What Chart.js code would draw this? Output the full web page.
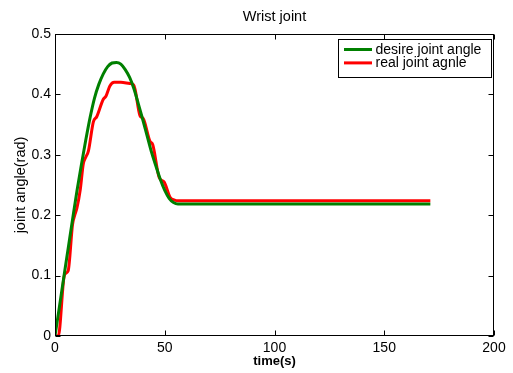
<!DOCTYPE html>
<html>
<head>
<meta charset="utf-8">
<script src="https://cdn.jsdelivr.net/npm/chart.js@4"></script>
<style>
  html, body { margin: 0; padding: 0; background: #fff; }
  #wrap { width: 513px; height: 373px; }
</style>
</head>
<body>
<div id="wrap"><canvas id="jointChart" width="513" height="373"></canvas></div>
<script>
// DATA
let chartTitle = 'Wrist joint';
let xAxisLabel = 'time(s)';
let yAxisLabel = 'joint angle(rad)';
let seriesLabels = ['desire joint angle', 'real joint agnle'];

let desireTime = [0, 2, 4, 6, 8, 10, 12, 14, 16, 18, 20, 22, 24, 26, 28, 30, 32, 34, 36, 38,
    40, 42, 44, 46, 48, 50, 52, 54, 56, 171];
let desireAngle = [0, 0.048, 0.097, 0.145, 0.193, 0.240, 0.283, 0.324, 0.362, 0.394, 0.417,
    0.434, 0.446, 0.452, 0.453, 0.450, 0.441, 0.428, 0.409, 0.384, 0.358, 0.331, 0.304,
    0.281, 0.259, 0.241, 0.228, 0.221, 0.2185, 0.2185];

let realTime = [0, 1.5, 4.0, 4.6, 6.0, 8.0, 9.0, 10.0, 11.5, 12.9, 14.0, 15.2, 17.5, 19.0,
    22.0, 23.2, 25.0, 27.0, 30.0, 34.0, 35.8, 36.5, 38.7, 40.2, 43.3, 44.5, 47.5, 49.7,
    52.5, 54.5, 56, 171];
let realAngle = [0, 0, 0.095, 0.103, 0.108, 0.185, 0.200, 0.212, 0.242, 0.285, 0.296, 0.306,
    0.355, 0.363, 0.392, 0.397, 0.414, 0.420, 0.420, 0.418, 0.416, 0.408, 0.365, 0.360,
    0.322, 0.317, 0.262, 0.255, 0.229, 0.225, 0.224, 0.224];

let xTicks = { min: 0, max: 200, step: 50 };
let yTicks = { min: 0, max: 0.5, step: 0.1 };

let lineColors = ['rgb(0, 128, 0)', 'rgb(255, 0, 0)'];

function toPoints(xs, ys) {
    let pts = [];
    for (let i = 0; i < xs.length; i++) {
        pts.push({ x: xs[i], y: ys[i] });
    }
    return pts;
}

let fontFamily = '"Liberation Sans", Arial, Helvetica, sans-serif';

// box round the axes with inside ticks on all four sides (matlab style)
let boxPlugin = {
    id: 'matlabBox',
    afterDatasetsDraw: function (chart) {
        let ctx = chart.ctx;
        let a = chart.chartArea;
        let xs = chart.scales.x, ys = chart.scales.y;
        let l = Math.round(a.left) + 0.5, r = Math.round(a.right) - 0.5;
        let t = Math.round(a.top) + 0.5, b = Math.round(a.bottom) - 0.5;
        let tl = 5;
        ctx.save();
        ctx.strokeStyle = '#000';
        ctx.lineWidth = 1;
        ctx.beginPath();
        xs.ticks.forEach(function (tk) {
            let px = Math.round(xs.getPixelForValue(tk.value)) + 0.5;
            ctx.moveTo(px, b); ctx.lineTo(px, b - tl);
            ctx.moveTo(px, t); ctx.lineTo(px, t + tl);
        });
        ys.ticks.forEach(function (tk) {
            let py = Math.round(ys.getPixelForValue(tk.value)) + 0.5;
            ctx.moveTo(l, py); ctx.lineTo(l + tl, py);
            ctx.moveTo(r, py); ctx.lineTo(r - tl, py);
        });
        ctx.stroke();
        ctx.strokeRect(l, t, r - l, b - t);

        // legend box, top right inside the axes
        let lw = 153, lh = 38;
        let lx = Math.round(a.right) - 3 - lw + 0.5, ly = Math.round(a.top) + 5 + 0.5;
        ctx.fillStyle = '#fff';
        ctx.fillRect(lx, ly, lw, lh);
        ctx.strokeRect(lx, ly, lw, lh);
        ctx.font = '14px ' + fontFamily;
        ctx.textBaseline = 'middle';
        ctx.textAlign = 'left';
        chart.data.datasets.forEach(function (ds, i) {
            let cy = ly + 10 + i * 13.4;
            ctx.strokeStyle = ds.borderColor;
            ctx.lineWidth = 3;
            ctx.beginPath();
            ctx.moveTo(lx + 5.5, cy);
            ctx.lineTo(lx + 33.5, cy);
            ctx.stroke();
            ctx.fillStyle = '#000';
            ctx.fillText(ds.label, lx + 37, cy + 0.5);
        });
        ctx.restore();
    }
};

let jointCtx = document.getElementById('jointChart').getContext('2d');
let jointChart = new Chart(jointCtx, {
    type: 'line',
    data: {
        datasets: [{
            label: seriesLabels[0],
            data: toPoints(desireTime, desireAngle),
            borderColor: lineColors[0],
            borderWidth: 3,
            pointRadius: 0,
            cubicInterpolationMode: 'monotone',
            fill: false
        }, {
            label: seriesLabels[1],
            data: toPoints(realTime, realAngle),
            borderColor: lineColors[1],
            borderWidth: 3,
            pointRadius: 0,
            cubicInterpolationMode: 'monotone',
            fill: false
        }]
    },
    options: {
        responsive: false,
        animation: false,
        events: [],
        layout: { padding: { left: 0, right: 19, top: 0, bottom: 0 } },
        plugins: {
            legend: { display: false },
            tooltip: { enabled: false },
            title: {
                display: true,
                text: chartTitle,
                fullSize: false,
                color: '#000',
                font: { family: fontFamily, size: 14.5, weight: 'normal' },
                padding: { top: 8.3, bottom: 8.3 }
            }
        },
        scales: {
            x: {
                type: 'linear',
                min: xTicks.min,
                max: xTicks.max,
                grid: { display: false, drawTicks: false },
                border: { display: false },
                ticks: {
                    stepSize: xTicks.step,
                    color: '#000',
                    padding: 4,
                    maxRotation: 0,
                    font: { family: fontFamily, size: 14 }
                },
                title: {
                    display: true,
                    text: xAxisLabel,
                    color: '#000',
                    font: { family: fontFamily, size: 13, weight: 'bold' },
                    padding: { top: 0, bottom: 3.7 }
                },
                afterFit: function (scale) { scale.height = 37; }
            },
            y: {
                type: 'linear',
                min: yTicks.min,
                max: yTicks.max,
                grid: { display: false, drawTicks: false },
                border: { display: false },
                ticks: {
                    stepSize: yTicks.step,
                    color: '#000',
                    padding: 4,
                    font: { family: fontFamily, size: 14 }
                },
                title: {
                    display: true,
                    text: yAxisLabel,
                    color: '#000',
                    font: { family: fontFamily, size: 14.5, weight: 'normal' },
                    padding: { top: 12.3, bottom: 0 }
                },
                afterFit: function (scale) { scale.width = 55; }
            }
        }
    },
    plugins: [boxPlugin]
});
</script>
</body>
</html>
